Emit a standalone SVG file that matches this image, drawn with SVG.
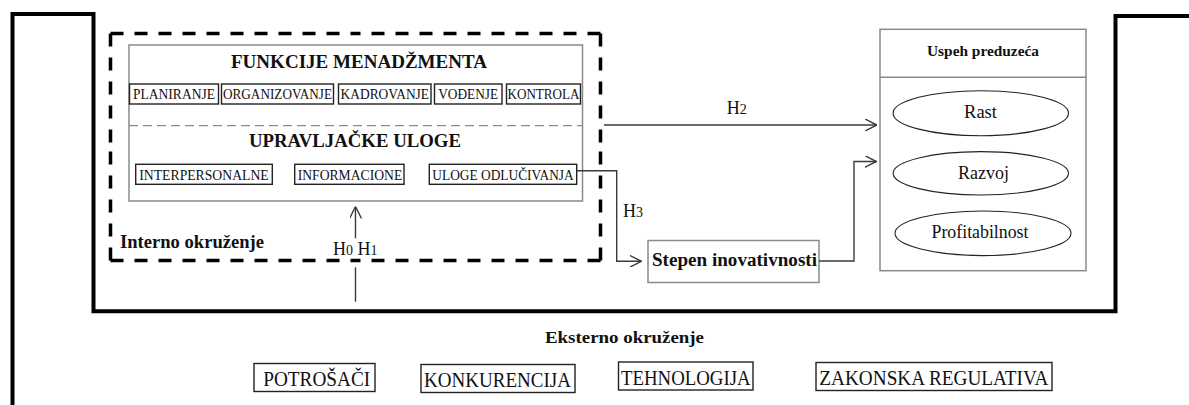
<svg xmlns="http://www.w3.org/2000/svg" width="1189" height="405" viewBox="0 0 1189 405">
  <style>
    text { font-family: "Liberation Serif", "Times New Roman", serif; fill: #111; }
    .b { font-weight: bold; }
    .frame { fill: none; stroke: #000; stroke-width: 4; stroke-linejoin: miter; }
    .dash { fill: none; stroke: #000; stroke-width: 3.5; stroke-dasharray: 13 11; }
    .panel { fill: #fff; stroke: #8a8a8a; stroke-width: 1.5; }
    .item { fill: #fff; stroke: #222; stroke-width: 1.4; }
    .oval { fill: #fff; stroke: #222; stroke-width: 1.1; }
    .conn { fill: none; stroke: #3a3a3a; stroke-width: 1.4; }
    .f14 { font-size: 14px; }
    .f21 { font-size: 21px; }
    .h { font-size: 18px; }
    .sub { font-size: 14px; }
  </style>
  <defs>
    <marker id="open" viewBox="0 0 12 12" refX="12" refY="6" markerWidth="12" markerHeight="12" markerUnits="userSpaceOnUse" orient="auto">
      <path d="M0,0 L12,6 L0,12" fill="none" stroke="#3a3a3a" stroke-width="1.4"/>
    </marker>
  </defs>

  <rect width="1189" height="405" fill="#fff"/>

  <!-- external environment frame -->
  <path class="frame" d="M12.5,405 V14 H93.5 V311.3 H1115.5 V16 H1189"/>

  <!-- internal environment: dashed boundary, each side drawn from its corners inward -->
  <g id="interno">
    <path class="dash" d="M110.5,33.5 H356 M600.5,33.5 H355 M600.5,33.5 V147 M600.5,260.5 V146 M600.5,260.5 H355 M110.5,260.5 H356 M110.5,260.5 V146 M110.5,33.5 V147"/>
    <text class="b" x="120" y="248.3" font-size="18" textLength="144" lengthAdjust="spacingAndGlyphs">Interno okruženje</text>
  </g>

  <!-- management panel -->
  <g id="menadzment">
    <rect class="panel" x="129" y="45" width="453.5" height="156"/>
    <line x1="129" y1="125.7" x2="582.5" y2="125.7" stroke="#8a8a8a" stroke-width="1.2" stroke-dasharray="9 5"/>
    <text class="b" x="359" y="67.7" font-size="19" text-anchor="middle" textLength="256" lengthAdjust="spacingAndGlyphs">FUNKCIJE MENADŽMENTA</text>
    <text class="b" x="355" y="146.7" font-size="19" text-anchor="middle" textLength="212" lengthAdjust="spacingAndGlyphs">UPRAVLJAČKE ULOGE</text>
  </g>

  <g id="planiranje">
    <rect class="item" x="129.5" y="84" width="89" height="20"/>
    <text class="f14" x="174" y="98.5" text-anchor="middle" textLength="82" lengthAdjust="spacingAndGlyphs">PLANIRANJE</text>
  </g>
  <g id="organizovanje">
    <rect class="item" x="221.5" y="84" width="112" height="20"/>
    <text class="f14" x="277.5" y="98.5" text-anchor="middle" textLength="109" lengthAdjust="spacingAndGlyphs">ORGANIZOVANJE</text>
  </g>
  <g id="kadrovanje">
    <rect class="item" x="338.5" y="84" width="92.5" height="20"/>
    <text class="f14" x="384.8" y="98.5" text-anchor="middle" textLength="88.5" lengthAdjust="spacingAndGlyphs">KADROVANJE</text>
  </g>
  <g id="vodjenje">
    <rect class="item" x="434.5" y="84" width="67.5" height="20"/>
    <text class="f14" x="468.2" y="98.5" text-anchor="middle" textLength="60" lengthAdjust="spacingAndGlyphs">VOĐENJE</text>
  </g>
  <g id="kontrola">
    <rect class="item" x="506.5" y="84" width="74" height="20"/>
    <text class="f14" x="543.5" y="98.5" text-anchor="middle" textLength="72" lengthAdjust="spacingAndGlyphs">KONTROLA</text>
  </g>

  <g id="interpersonalne">
    <rect class="item" x="135.7" y="164.3" width="136.6" height="20"/>
    <text class="f14" x="204" y="180" text-anchor="middle" textLength="129.4" lengthAdjust="spacingAndGlyphs">INTERPERSONALNE</text>
  </g>
  <g id="informacione">
    <rect class="item" x="294.7" y="164.3" width="109.3" height="20"/>
    <text class="f14" x="350" y="180" text-anchor="middle" textLength="104.6" lengthAdjust="spacingAndGlyphs">INFORMACIONE</text>
  </g>
  <g id="odlucivanje">
    <rect class="item" x="429.3" y="164.3" width="147.4" height="20"/>
    <text class="f14" x="503" y="180" text-anchor="middle" textLength="141.4" lengthAdjust="spacingAndGlyphs">ULOGE ODLUČIVANJA</text>
  </g>

  <!-- innovation level -->
  <g id="inovativnost">
    <rect class="panel" x="648" y="240.5" width="171" height="42"/>
    <text class="b" x="734.5" y="265.5" font-size="18" text-anchor="middle" textLength="165" lengthAdjust="spacingAndGlyphs">Stepen inovativnosti</text>
  </g>

  <!-- company success -->
  <g id="uspeh">
    <rect class="panel" x="880" y="29.3" width="206" height="241.4"/>
    <line x1="880" y1="77.3" x2="1086" y2="77.3" stroke="#8a8a8a" stroke-width="1.5"/>
    <text class="b" x="983" y="56" font-size="15" text-anchor="middle" textLength="112" lengthAdjust="spacingAndGlyphs">Uspeh preduzeća</text>
  </g>
  <g id="rast">
    <ellipse class="oval" cx="980.8" cy="113.2" rx="87.7" ry="22.5"/>
    <text x="980.5" y="117.5" font-size="19" text-anchor="middle" textLength="33" lengthAdjust="spacingAndGlyphs">Rast</text>
  </g>
  <g id="razvoj">
    <ellipse class="oval" cx="980.8" cy="173.3" rx="87.7" ry="21.7"/>
    <text x="983.5" y="179" font-size="19" text-anchor="middle" textLength="51" lengthAdjust="spacingAndGlyphs">Razvoj</text>
  </g>
  <g id="profitabilnost">
    <ellipse class="oval" cx="983" cy="233.3" rx="88" ry="22.3"/>
    <text x="980" y="237.5" font-size="19" text-anchor="middle" textLength="97" lengthAdjust="spacingAndGlyphs">Profitabilnost</text>
  </g>

  <!-- external factors -->
  <g id="eksterno">
    <text class="b" x="624.5" y="343" font-size="17" text-anchor="middle" textLength="159" lengthAdjust="spacingAndGlyphs">Eksterno okruženje</text>
  </g>
  <g id="potrosaci">
    <rect class="item" x="254" y="363.5" width="121" height="28"/>
    <text class="f21" x="316.7" y="386" text-anchor="middle" textLength="107" lengthAdjust="spacingAndGlyphs">POTROŠAČI</text>
  </g>
  <g id="konkurencija">
    <rect class="item" x="421" y="364.5" width="154" height="28"/>
    <text class="f21" x="497.5" y="387" text-anchor="middle" textLength="147" lengthAdjust="spacingAndGlyphs">KONKURENCIJA</text>
  </g>
  <g id="tehnologija">
    <rect class="item" x="618.5" y="362" width="134.5" height="28"/>
    <text class="f21" x="685.8" y="384.5" text-anchor="middle" textLength="129.6" lengthAdjust="spacingAndGlyphs">TEHNOLOGIJA</text>
  </g>
  <g id="regulativa">
    <rect class="item" x="816" y="362.5" width="236" height="28"/>
    <text class="f21" x="933.8" y="385" text-anchor="middle" textLength="229" lengthAdjust="spacingAndGlyphs">ZAKONSKA REGULATIVA</text>
  </g>

  <!-- connectors -->
  <g id="connectors">
    <path class="conn" d="M604,125 H877" marker-end="url(#open)"/>
    <path class="conn" d="M576.7,170.7 H616.7 V261.3 H641.5" marker-end="url(#open)"/>
    <path class="conn" d="M819,261 H854 V161.5 H876.5" marker-end="url(#open)"/>
    <path class="conn" d="M355.5,238.3 V206.5" marker-end="url(#open)"/>
    <path class="conn" d="M355.5,267.3 V301.7"/>
    <text class="h" x="726.7" y="114">H<tspan class="sub">2</tspan></text>
    <text class="h" x="623" y="217">H<tspan class="sub">3</tspan></text>
    <text class="h" x="333" y="255">H<tspan class="sub">0</tspan> H<tspan class="sub">1</tspan></text>
  </g>
</svg>
